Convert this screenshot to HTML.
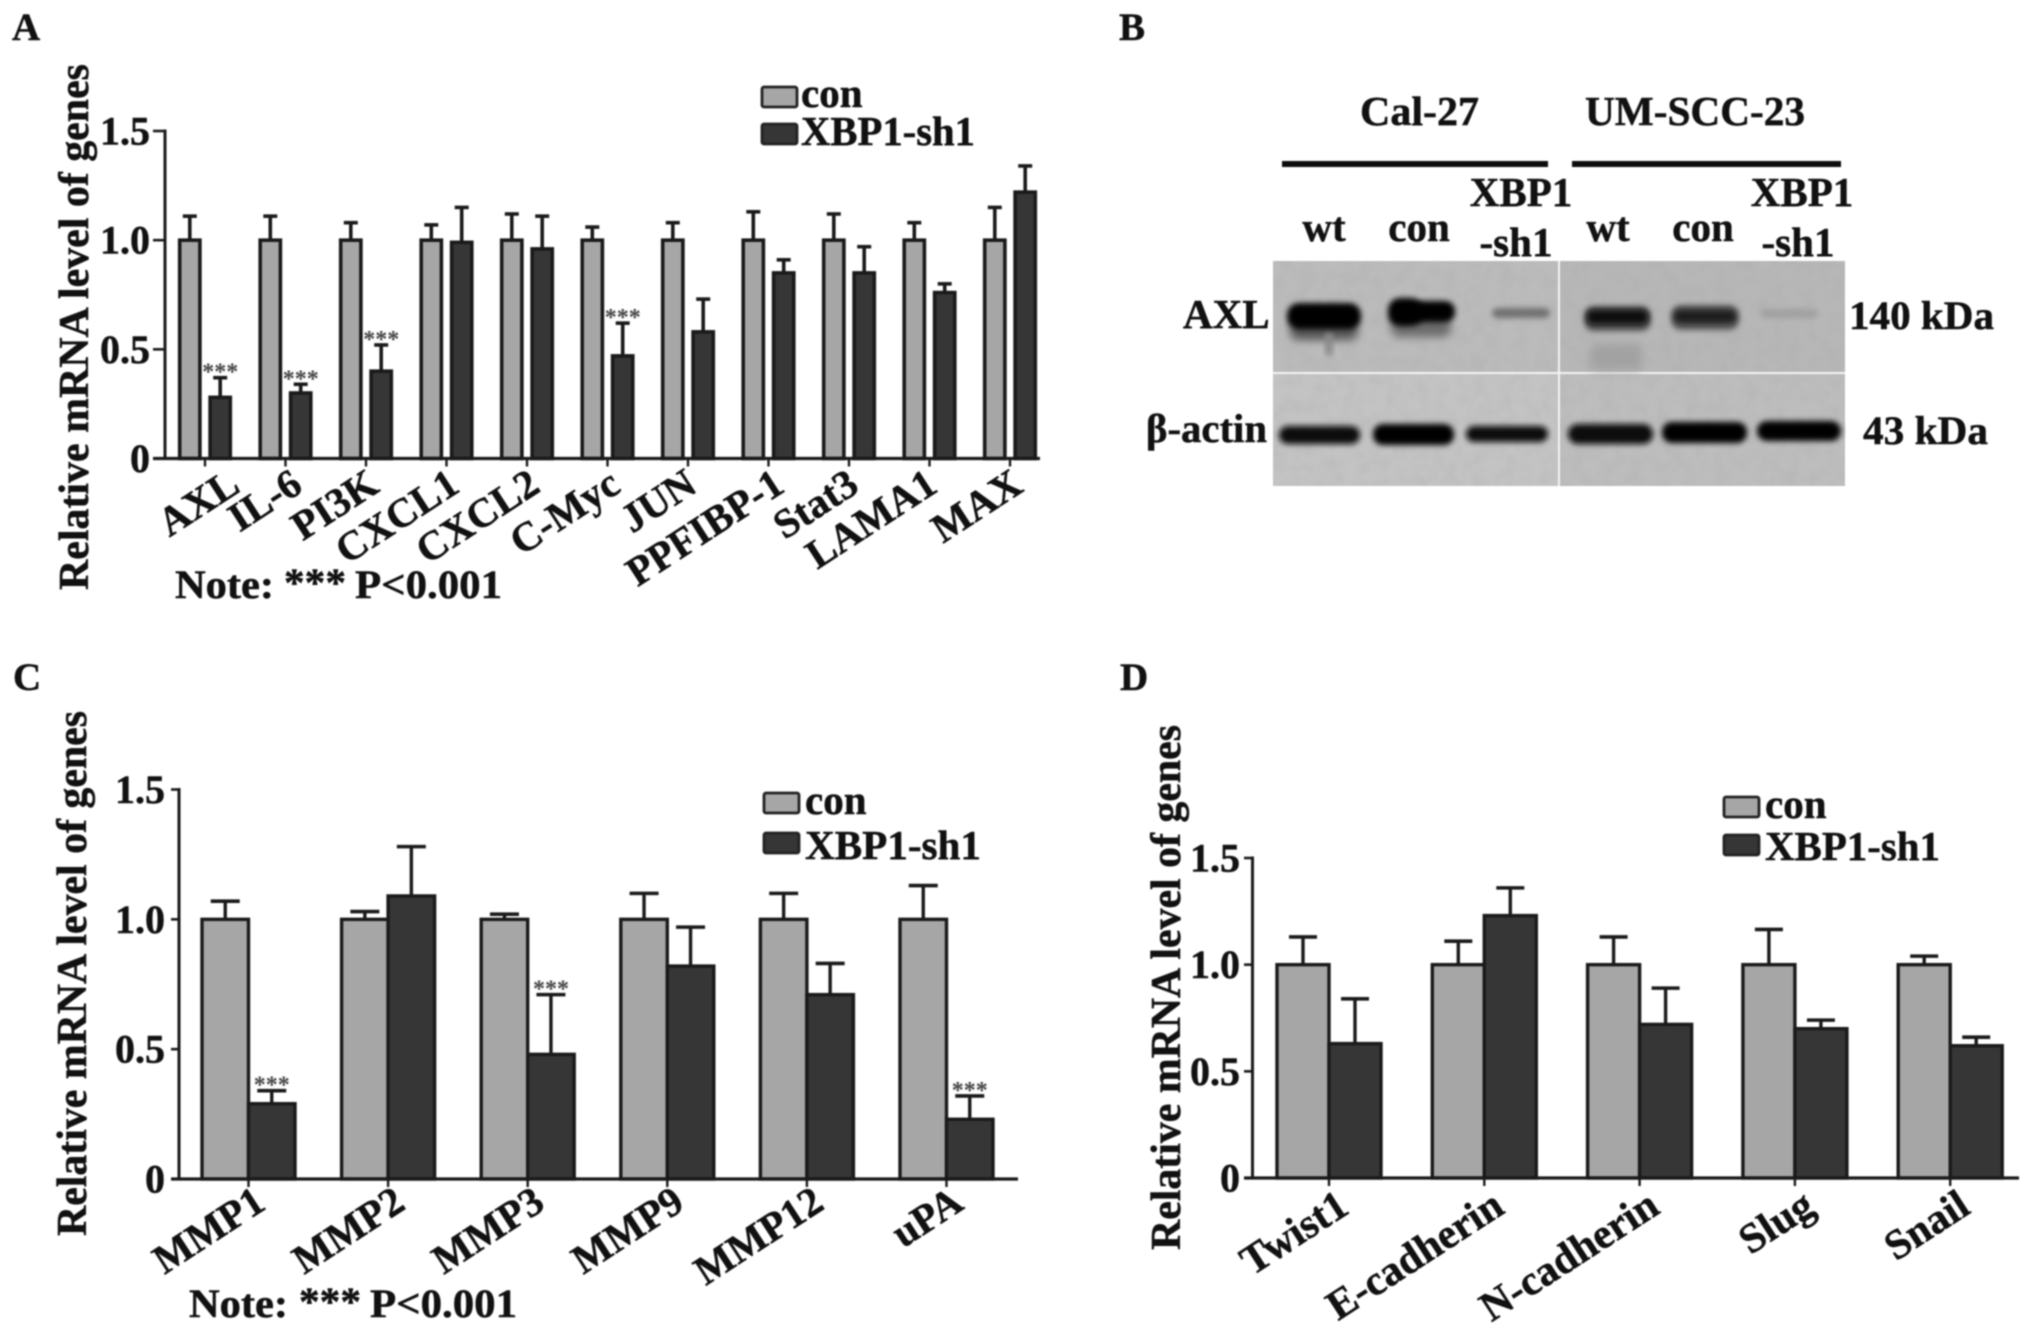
<!DOCTYPE html>
<html lang="en">
<head>
<meta charset="utf-8">
<title>XBP1 knockdown gene expression figure</title>
<style>
html,body{margin:0;padding:0;background:#fff;}
#figure{display:block;width:2031px;height:1329px;filter:blur(0.8px);}
text{font-family:"Liberation Serif","DejaVu Serif",serif;font-weight:bold;fill:#111;stroke:#111;stroke-width:0.5px;}
</style>
</head>
<body>
<svg id="figure" xmlns="http://www.w3.org/2000/svg" width="2031" height="1329" viewBox="0 0 2031 1329">
  <defs>
    <filter id="b2" x="-30%" y="-80%" width="160%" height="260%"><feGaussianBlur stdDeviation="2.8"/></filter>
    <filter id="b5" x="-40%" y="-80%" width="180%" height="260%"><feGaussianBlur stdDeviation="4.5"/></filter>
    <filter id="grain" x="0" y="0" width="100%" height="100%">
      <feTurbulence type="fractalNoise" baseFrequency="0.07" numOctaves="3" seed="4"/>
      <feColorMatrix type="matrix" values="0 0 0 0 0.35  0 0 0 0 0.35  0 0 0 0 0.35  1.2 0 0 0 -0.45"/>
    </filter>
  </defs>
  <rect width="2031" height="1329" fill="#fff"/>

  <text x="12" y="40" font-size="39">A</text>
  <text x="1119" y="40" font-size="39">B</text>
  <text x="13" y="690" font-size="39">C</text>
  <text x="1120" y="690" font-size="39">D</text>

  <g id="panel-a"></g>
  <g id="panel-c"></g>
  <g id="panel-d"></g>

  <text x="175" y="598" font-size="40" textLength="99" lengthAdjust="spacingAndGlyphs">Note:</text>
  <text x="284" y="596" font-size="40" textLength="62" lengthAdjust="spacingAndGlyphs">***</text>
  <text x="355" y="598" font-size="40" textLength="147" lengthAdjust="spacingAndGlyphs">P&lt;0.001</text>
  <text x="189" y="1317" font-size="40" textLength="99" lengthAdjust="spacingAndGlyphs">Note:</text>
  <text x="299" y="1315" font-size="40" textLength="62" lengthAdjust="spacingAndGlyphs">***</text>
  <text x="370" y="1317" font-size="40" textLength="147" lengthAdjust="spacingAndGlyphs">P&lt;0.001</text>

  <g>
    <text x="1360" y="125" font-size="41" textLength="119" lengthAdjust="spacingAndGlyphs">Cal-27</text>
    <text x="1585" y="125" font-size="41" textLength="220" lengthAdjust="spacingAndGlyphs">UM-SCC-23</text>
    <rect x="1282" y="161" width="266" height="6" fill="#0c0c0c"/>
    <rect x="1572" y="161" width="269" height="6" fill="#0c0c0c"/>

    <text x="1324" y="241" font-size="41" text-anchor="middle">wt</text>
    <text x="1419" y="241" font-size="41" text-anchor="middle">con</text>
    <text x="1521" y="206" font-size="41" text-anchor="middle">XBP1</text>
    <text x="1516" y="256" font-size="41" text-anchor="middle">-sh1</text>
    <text x="1608" y="241" font-size="41" text-anchor="middle">wt</text>
    <text x="1703" y="241" font-size="41" text-anchor="middle">con</text>
    <text x="1802" y="206" font-size="41" text-anchor="middle">XBP1</text>
    <text x="1798" y="256" font-size="41" text-anchor="middle">-sh1</text>

    <g>
      <rect x="1273" y="261" width="285" height="111" fill="#bbbbbb"/>
      <rect x="1560" y="261" width="285" height="111" fill="#b7b7b7"/>
      <rect x="1273" y="374" width="285" height="112" fill="#c3c3c3"/>
      <rect x="1560" y="374" width="285" height="112" fill="#bdbdbd"/>
      <rect x="1273" y="261" width="572" height="225" filter="url(#grain)" opacity="0.3"/>
      <rect x="1273" y="372" width="572" height="2" fill="#f4f4f4"/>
      <rect x="1558" y="261" width="2" height="225" fill="#f4f4f4"/>

      <rect x="1290" y="318" width="68" height="22" rx="8" fill="#555" filter="url(#b5)"/>
      <rect x="1325" y="332" width="8" height="24" rx="4" fill="#8a8a8a" filter="url(#b2)"/>
      <rect x="1287" y="303" width="74" height="26" rx="12" fill="#040404" filter="url(#b2)"/>
      <rect x="1391" y="314" width="60" height="23" rx="8" fill="#6a6a6a" filter="url(#b5)"/>
      <rect x="1388" y="298" width="35" height="28" rx="12" fill="#040404" filter="url(#b2)"/>
      <rect x="1412" y="301" width="43" height="21" rx="10" fill="#040404" filter="url(#b2)"/>
      <rect x="1492" y="308" width="58" height="10" rx="5" fill="#707070" filter="url(#b2)"/>
      <rect x="1590" y="344" width="52" height="26" rx="6" fill="#a2a2a2" filter="url(#b5)"/>
      <rect x="1584" y="306" width="67" height="25" rx="10" fill="#505050" filter="url(#b2)"/>
      <rect x="1587" y="310" width="61" height="14" rx="6" fill="#0a0a0a" filter="url(#b2)"/>
      <rect x="1671" y="305" width="68" height="25" rx="10" fill="#585858" filter="url(#b2)"/>
      <rect x="1674" y="310" width="62" height="13" rx="6" fill="#1c1c1c" filter="url(#b2)"/>
      <rect x="1761" y="309" width="57" height="9" rx="4" fill="#a0a0a0" filter="url(#b2)"/>

      <rect x="1279" y="426" width="81" height="18" rx="9" fill="#0b0b0b" filter="url(#b2)"/>
      <rect x="1373" y="424" width="81" height="21" rx="10" fill="#050505" filter="url(#b2)"/>
      <rect x="1466" y="426" width="82" height="16" rx="8" fill="#111" filter="url(#b2)"/>
      <rect x="1568" y="424" width="85" height="20" rx="10" fill="#080808" filter="url(#b2)"/>
      <rect x="1662" y="422" width="85" height="21" rx="10" fill="#050505" filter="url(#b2)"/>
      <rect x="1757" y="421" width="84" height="20" rx="10" fill="#050505" filter="url(#b2)"/>
    </g>

    <text x="1183" y="328" font-size="41">AXL</text>
    <text x="1849" y="329" font-size="40" textLength="145" lengthAdjust="spacingAndGlyphs">140 kDa</text>
    <text x="1146" y="442" font-size="40" textLength="121" lengthAdjust="spacingAndGlyphs">β-actin</text>
    <text x="1863" y="444" font-size="40" textLength="125" lengthAdjust="spacingAndGlyphs">43 kDa</text>
  </g>
</svg>

<script>
// Shared axis values
const yTickValues = [0, 0.5, 1.0, 1.5];
const yTickLabels = ['0', '0.5', '1.0', '1.5'];
const legendLabels = ['con', 'XBP1-sh1'];

// Panel A values
const panelACategories = ['AXL', 'IL-6', 'PI3K', 'CXCL1', 'CXCL2', 'C-Myc', 'JUN', 'PPFIBP-1', 'Stat3', 'LAMA1', 'MAX'];
const panelACon = [1, 1, 1, 1, 1, 1, 1, 1, 1, 1, 1];
const panelAConErr = [1.11, 1.11, 1.08, 1.07, 1.12, 1.06, 1.08, 1.13, 1.12, 1.08, 1.15];
const panelASh = [0.28, 0.30, 0.40, 0.99, 0.96, 0.47, 0.58, 0.85, 0.85, 0.76, 1.22];
const panelAShErr = [0.37, 0.34, 0.52, 1.15, 1.11, 0.62, 0.73, 0.91, 0.97, 0.80, 1.34];
const panelAStarred = ['AXL', 'IL-6', 'PI3K', 'C-Myc'];

// Panel C values
const panelCCategories = ['MMP1', 'MMP2', 'MMP3', 'MMP9', 'MMP12', 'uPA'];
const panelCCon = [1, 1, 1, 1, 1, 1];
const panelCConErr = [1.07, 1.03, 1.02, 1.10, 1.10, 1.13];
const panelCSh = [0.29, 1.09, 0.48, 0.82, 0.71, 0.23];
const panelCShErr = [0.34, 1.28, 0.71, 0.97, 0.83, 0.32];
const panelCStarred = ['MMP1', 'MMP3', 'uPA'];

// Panel D values
const panelDCategories = ['Twist1', 'E-cadherin', 'N-cadherin', 'Slug', 'Snail'];
const panelDCon = [1, 1, 1, 1, 1];
const panelDConErr = [1.13, 1.11, 1.13, 1.165, 1.04];
const panelDSh = [0.63, 1.23, 0.72, 0.70, 0.62];
const panelDShErr = [0.84, 1.36, 0.89, 0.74, 0.66];
const panelDStarred = [];

const SVG_NS = 'http://www.w3.org/2000/svg';
const INK = '#1a1a1a';

function mk(parent, tag, attrs, content) {
  const el = document.createElementNS(SVG_NS, tag);
  for (const k in attrs) el.setAttribute(k, attrs[k]);
  if (content !== undefined) el.textContent = content;
  parent.appendChild(el);
  return el;
}

function drawPanel(rootId, categories, con, conErr, sh, shErr, starred, L) {
  const root = document.getElementById(rootId);
  const yScale = v => L.y0 - (v / 1.5) * (L.y0 - L.yTop);
  const xScale = i => L.tick0 + i * L.step;

  // Y axis title
  const titleEl = mk(root, 'text', {
    transform: 'translate(' + L.titleX + ',' + L.titleY + ') rotate(-90)',
    'font-size': 42, textLength: L.titleLen, lengthAdjust: 'spacingAndGlyphs'
  }, 'Relative mRNA level of genes');
  
  

  // Bars, errors, stars
  categories.forEach((cat, i) => {
    const t = xScale(i);
    const group = mk(root, 'g', {});
    
    

    const drawBar = (value, err, left, fill, key) => {
      const cx = left + L.barW / 2;
      const stem = mk(group, 'line', { x1: cx, x2: cx, y1: yScale(value), y2: yScale(err), stroke: INK, 'stroke-width': L.stroke });
      
      
      const cap = mk(group, 'line', { x1: cx - L.capW / 2, x2: cx + L.capW / 2, y1: yScale(err), y2: yScale(err), stroke: INK, 'stroke-width': 3.6 });
      
      
      const bar = mk(group, 'rect', {
        x: left + L.inset, y: yScale(value), width: L.barW - 2 * L.inset, height: L.y0 - yScale(value),
        fill: fill, stroke: INK, 'stroke-width': L.stroke
      });
      
      
    };
    drawBar(con[i], conErr[i], t - L.gap - L.barW, '#a6a6a6', 'con');
    drawBar(sh[i], shErr[i], t + L.gap, '#363636', 'xbp1-sh1');

    if (starred.includes(cat)) {
      const star = mk(group, 'text', {
        x: t + L.gap + L.barW / 2, y: yScale(shErr[i]) + 2, 'font-size': 24,
        'text-anchor': 'middle', style: 'fill:#444;stroke:none'
      }, '***');
      
      
    }

    const tick = mk(group, 'line', { x1: t, x2: t, y1: L.y0, y2: L.y0 + 8, stroke: INK, 'stroke-width': 2.4 });
    
    

    const nudge = (L.labelNudge && L.labelNudge[cat]) || 0;
    const lx = t + L.labelDx + nudge;
    const ly = L.y0 + L.labelDy;
    const label = mk(group, 'text', {
      transform: 'translate(' + lx + ',' + ly + ') rotate(' + L.labelAngle + ')',
      'font-size': L.labelSize, 'text-anchor': 'end'
    }, cat);
    
    
  });

  // Axes
  const yAxis = mk(root, 'line', { x1: L.axisX, x2: L.axisX, y1: L.yTop - 1.5, y2: L.y0, stroke: INK, 'stroke-width': 3 });
  
  
  const xAxis = mk(root, 'line', { x1: L.xStart, x2: L.xEnd, y1: L.y0, y2: L.y0, stroke: INK, 'stroke-width': 3.2 });
  
  

  yTickValues.forEach((v, i) => {
    const y = yScale(v);
    const tick = mk(root, 'line', { x1: L.xStart, x2: L.axisX, y1: y, y2: y, stroke: INK, 'stroke-width': 2.6 });
    
    
    const label = mk(root, 'text', { x: L.yLabelX, y: y + 13.5, 'font-size': 40, 'text-anchor': 'end' }, yTickLabels[i]);
    
    
  });

  // Legend
  legendLabels.forEach((name, i) => {
    const fill = i === 0 ? '#a6a6a6' : '#363636';
    const swatch = mk(root, 'rect', {
      x: L.legX, y: L.legY[i], width: L.legW, height: L.legH, rx: 2,
      fill: fill, stroke: '#222', 'stroke-width': 2.8
    });
    
    
    const attrs = { x: L.legTextX, y: L.legBase[i], 'font-size': 41 };
    if (i === 1) { attrs.textLength = L.legLen; attrs.lengthAdjust = 'spacingAndGlyphs'; }
    const text = mk(root, 'text', attrs, name);
    
    
  });
}

drawPanel('panel-a', panelACategories, panelACon, panelAConErr, panelASh, panelAShErr, panelAStarred, {
  axisX: 165, y0: 458.5, yTop: 131, xStart: 153, xEnd: 1040,
  tick0: 205, step: 80.5, barW: 23.4, gap: 3.5, capW: 14, stroke: 3.6, inset: 1.6,
  titleX: 88, titleY: 590, titleLen: 526, yLabelX: 150,
  labelDx: 15, labelDy: 32, labelAngle: -33, labelSize: 41,
  labelNudge: { 'AXL': 22, 'IL-6': 4, 'JUN': -4, 'PPFIBP-1': 3, 'Stat3': -3, 'LAMA1': -5 },
  legX: 762, legY: [87, 124], legW: 35, legH: 20, legTextX: 801, legBase: [107, 145], legLen: 174
});

drawPanel('panel-c', panelCCategories, panelCCon, panelCConErr, panelCSh, panelCShErr, panelCStarred, {
  axisX: 179, y0: 1179, yTop: 789.5, xStart: 171, xEnd: 1018,
  tick0: 248.5, step: 139.6, barW: 46.5, gap: 0, capW: 29, stroke: 3.4, inset: 0,
  titleX: 86, titleY: 1236, titleLen: 525, yLabelX: 165,
  labelDx: 19, labelDy: 29, labelAngle: -33, labelSize: 41,
  legX: 764, legY: [793, 833], legW: 35, legH: 20, legTextX: 805, legBase: [814, 859], legLen: 176
});

drawPanel('panel-d', panelDCategories, panelDCon, panelDConErr, panelDSh, panelDShErr, panelDStarred, {
  axisX: 1252.5, y0: 1178, yTop: 858, xStart: 1244, xEnd: 2019,
  tick0: 1329, step: 155.3, barW: 52, gap: 0, capW: 28, stroke: 3.4, inset: 0,
  titleX: 1180, titleY: 1250, titleLen: 525, yLabelX: 1240,
  labelDx: 22, labelDy: 34, labelAngle: -33, labelSize: 42,
  legX: 1724, legY: [797, 835], legW: 35, legH: 20, legTextX: 1765, legBase: [818, 860], legLen: 175
});
</script>
</body>
</html>
